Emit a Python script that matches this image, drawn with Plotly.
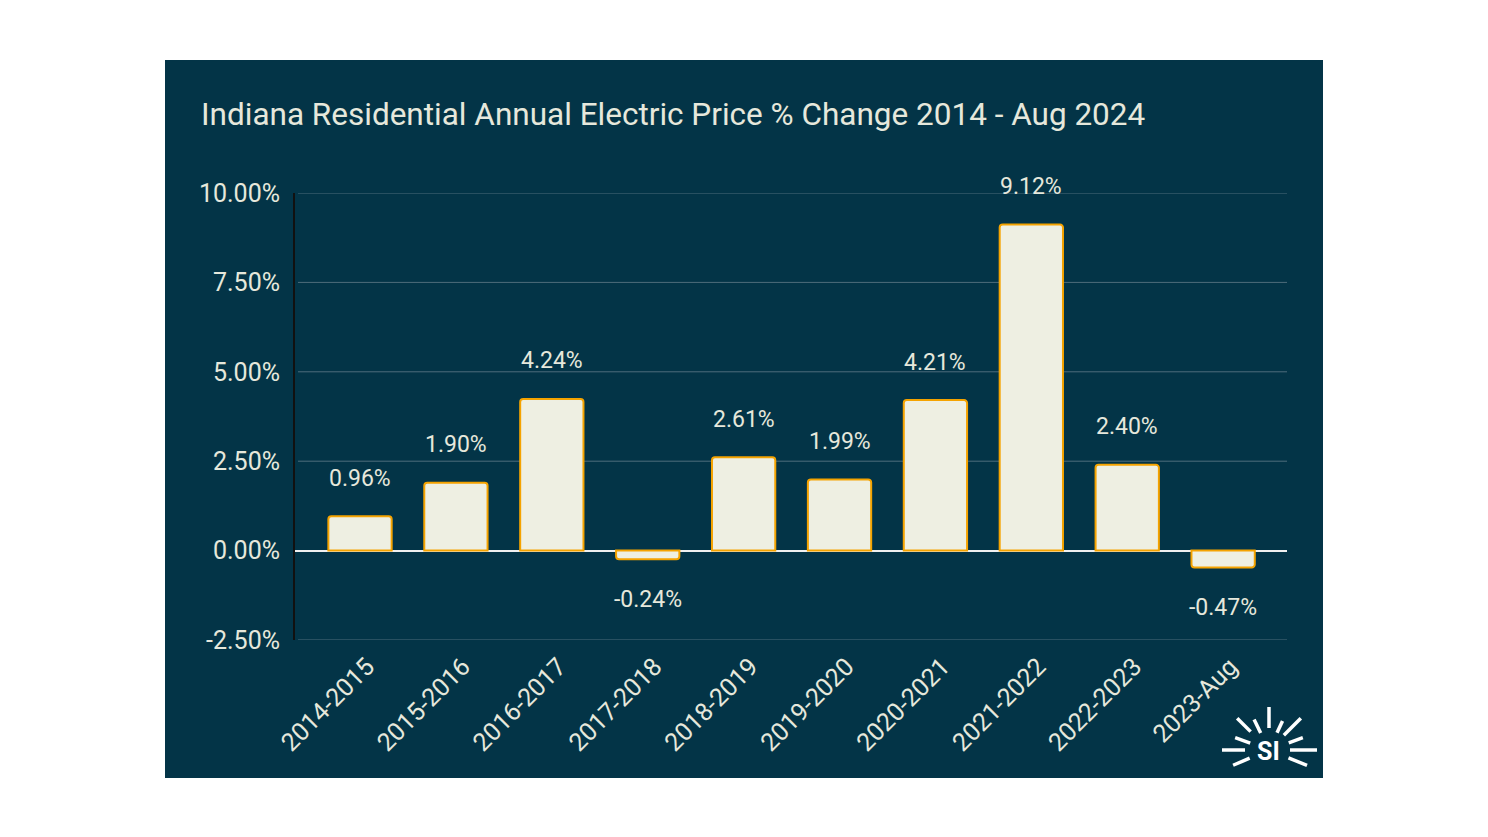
import math
import plotly.graph_objects as go

categories = ["2014-2015", "2015-2016", "2016-2017", "2017-2018", "2018-2019",
              "2019-2020", "2020-2021", "2021-2022", "2022-2023", "2023-Aug"]
values = [0.96, 1.90, 4.24, -0.24, 2.61, 1.99, 4.21, 9.12, 2.40, -0.47]
tick_vals = [-2.5, 0, 2.5, 5, 7.5, 10]
tick_text = ["-2.50%", "0.00%", "2.50%", "5.00%", "7.50%", "10.00%"]
title = "Indiana Residential Annual Electric Price % Change 2014 - Aug 2024"

W, H = 1488, 837
L, R, T, B = 295, 201, 193, 197
PW, PH = W - L - R, H - T - B
BG = "#033447"
TXT = "#e6e8dc"
GRID = "#4f6d7c"


def px(x):
    return (x - L) / PW


def py(y):
    return (H - B - y) / PH


fig = go.Figure()
fig.add_trace(go.Bar(
    x=list(range(len(categories))), y=values,
    marker=dict(color="#eeefe2", line=dict(color="#f5a300", width=2), cornerradius=3),
    width=0.66,
    hoverinfo="skip",
))

for i, v in enumerate(values):
    fig.add_annotation(x=i, y=v, text=f"{v:.2f}%", showarrow=False,
                       yshift=38 if v >= 0 else -40, yanchor="middle",
                       font=dict(family="Roboto", size=23, color=TXT))

shapes = [dict(type="rect", xref="paper", yref="paper", x0=px(165), x1=px(1323),
               y0=py(778), y1=py(60), fillcolor=BG, line=dict(width=0), layer="below")]

# gridlines at tick values (non-zero)
for tv in tick_vals:
    if tv != 0:
        shapes.append(dict(type="line", xref="paper", yref="y", x0=0.003, x1=1, y0=tv, y1=tv,
                           line=dict(color=GRID, width=1), layer="below"))

# logo rays
cx, cy = 1269, 750
rays = [(90, 22, 43), (65, 19, 32), (116, 19, 34), (45, 21, 45), (135, 26, 45),
        (20, 21, 36), (160, 20, 36), (0, 21, 48), (180, 24, 47), (-22, 21, 41), (203, 21, 39)]
for ang, r0, r1 in rays:
    a = math.radians(ang)
    shapes.append(dict(type="line", xref="paper", yref="paper",
                       x0=px(cx + r0 * math.cos(a)), y0=py(cy - r0 * math.sin(a)),
                       x1=px(cx + r1 * math.cos(a)), y1=py(cy - r1 * math.sin(a)),
                       line=dict(color="white", width=3.5)))
fig.add_annotation(xref="paper", yref="paper", x=px(1268), y=py(751), text="<b>SI</b>",
                   showarrow=False, font=dict(family="Roboto", size=25, color="white"),
                   xanchor="center", yanchor="middle")

fig.add_annotation(xref="paper", yref="paper", x=px(199), y=py(114), text=title,
                   showarrow=False, xanchor="left", yanchor="middle",
                   font=dict(family="Roboto", size=31.5, color=TXT))

fig.update_layout(
    width=W, height=H,
    margin=dict(l=L, r=R, t=T, b=B),
    paper_bgcolor="white", plot_bgcolor=BG,
    shapes=shapes,
    showlegend=False,
    xaxis=dict(range=[-0.678, 9.666], tickmode="array",
               tickvals=list(range(len(categories))), ticktext=categories,
               tickangle=-45, tickfont=dict(family="Roboto", size=25, color=TXT),
               ticklabelstandoff=6, ticklabelshift=7,
               showgrid=False, showline=False, ticks="", zeroline=False),
    yaxis=dict(range=[-2.5, 10], tickvals=tick_vals, ticktext=tick_text,
               tickfont=dict(family="Roboto", size=25, color=TXT),
               showgrid=False,
               zeroline=True, zerolinecolor="#f0f0f0", zerolinewidth=2,
               showline=True, linecolor="#111111", linewidth=2, ticklabelstandoff=8),
)

fig.write_html("out.html")
